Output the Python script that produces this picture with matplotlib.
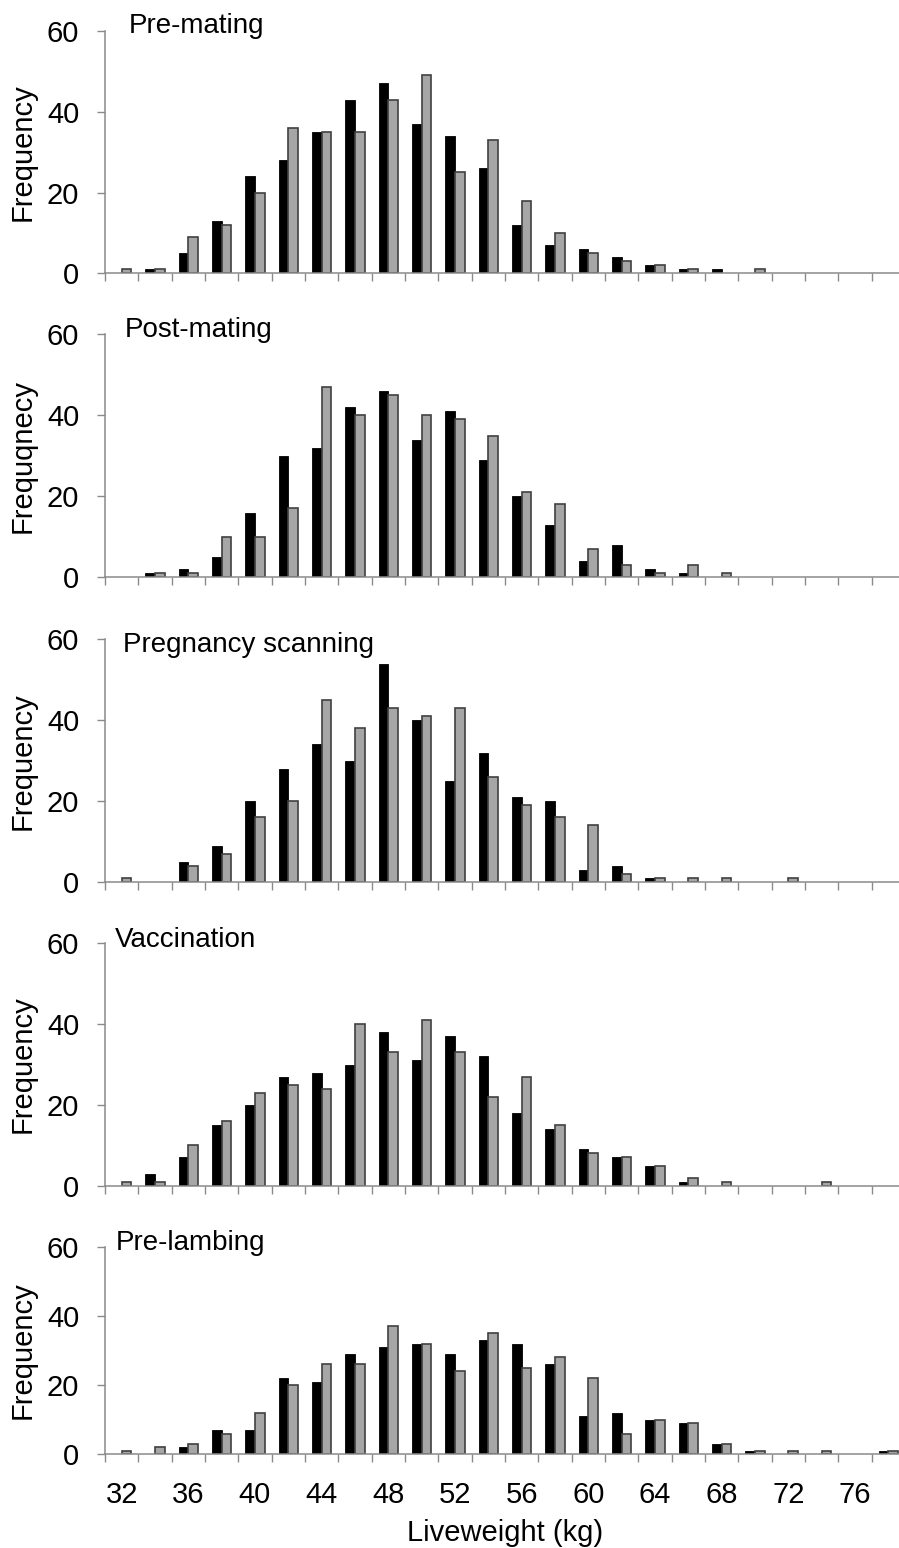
import matplotlib.pyplot as plt
import numpy as np

plt.rcParams["font.family"] = ["Liberation Sans", "DejaVu Sans"]

# liveweight classes (kg), one bar pair per class
weights = list(range(32, 80, 2))
tick_labels = ["32", "36", "40", "44", "48", "52", "56", "60", "64", "68", "72", "76"]

titles = ["Pre-mating", "Post-mating", "Pregnancy scanning", "Vaccination", "Pre-lambing"]
ylabels = ["Frequency", "Frequqnecy", "Frequency", "Frequency", "Frequency"]

# black series
pre_mating_a = [0, 1, 5, 13, 24, 28, 35, 43, 47, 37, 34, 26, 12, 7, 6, 4, 2, 1, 1, 0, 0, 0, 0, 0]
post_mating_a = [0, 1, 2, 5, 16, 30, 32, 42, 46, 34, 41, 29, 20, 13, 4, 8, 2, 1, 0, 0, 0, 0, 0, 0]
scanning_a = [0, 0, 5, 9, 20, 28, 34, 30, 54, 40, 25, 32, 21, 20, 3, 4, 1, 0, 0, 0, 0, 0, 0, 0]
vaccination_a = [0, 3, 7, 15, 20, 27, 28, 30, 38, 31, 37, 32, 18, 14, 9, 7, 5, 1, 0, 0, 0, 0, 0, 0]
pre_lambing_a = [0, 0, 2, 7, 7, 22, 21, 29, 31, 32, 29, 33, 32, 26, 11, 12, 10, 9, 3, 1, 0, 0, 0, 1]

# grey series
pre_mating_b = [1, 1, 9, 12, 20, 36, 35, 35, 43, 49, 25, 33, 18, 10, 5, 3, 2, 1, 0, 1, 0, 0, 0, 0]
post_mating_b = [0, 1, 1, 10, 10, 17, 47, 40, 45, 40, 39, 35, 21, 18, 7, 3, 1, 3, 1, 0, 0, 0, 0, 0]
scanning_b = [1, 0, 4, 7, 16, 20, 45, 38, 43, 41, 43, 26, 19, 16, 14, 2, 1, 1, 1, 0, 1, 0, 0, 0]
vaccination_b = [1, 1, 10, 16, 23, 25, 24, 40, 33, 41, 33, 22, 27, 15, 8, 7, 5, 2, 1, 0, 0, 1, 0, 0]
pre_lambing_b = [1, 2, 3, 6, 12, 20, 26, 26, 37, 32, 24, 35, 25, 28, 22, 6, 10, 9, 3, 1, 1, 1, 0, 1]

series_a = [pre_mating_a, post_mating_a, scanning_a, vaccination_a, pre_lambing_a]
series_b = [pre_mating_b, post_mating_b, scanning_b, vaccination_b, pre_lambing_b]

W, H = 899, 1548
fig = plt.figure(figsize=(W / 100, H / 100), dpi=100)

# panel extents in pixels: (y of 60, y of 0)
panels = [(31, 273.3), (334.3, 577.3), (639.3, 882), (943.3, 1185.7), (1246.7, 1454.3)]
# title anchors (left x, baseline y)
title_pos = [(129, 33.3), (125, 337.3), (123, 652.3), (115, 946.7), (115.5, 1250)]

axis_grey = "#8a8a8a"
fs = 21
fs_title = 20
x = np.arange(len(weights))
bw = 0.29

for i, (top, bot) in enumerate(panels):
    ax = fig.add_axes([105 / W, 1 - bot / H, 800 / W, (bot - top) / H])
    a = np.array(series_a[i])
    b = np.array(series_b[i])
    ax.bar(x - bw / 2, a, width=bw, color="black", edgecolor="black",
           linewidth=np.where(a > 0, 0.6, 0))
    ax.bar(x + bw / 2, b, width=bw, color="#a6a6a6", edgecolor="#404040",
           linewidth=np.where(b > 0, 1.2, 0))

    ax.set_xlim(-0.5, len(weights) - 0.5)
    ax.set_ylim(0, 60)
    ax.set_yticks([0, 20, 40, 60])
    ax.tick_params(axis="y", direction="out", length=6, width=1, color=axis_grey,
                   labelsize=fs, pad=12.5)

    ax.set_xticks(np.arange(-0.5, len(weights), 1), minor=True)
    ax.set_xticks(x[::2])
    if i == len(panels) - 1:
        ax.set_xticklabels(tick_labels)
        ax.set_xlabel("Liveweight (kg)", fontsize=fs, va="baseline")
        ax.xaxis.set_label_coords(0.5, (bot - 1541) / (bot - top))
    else:
        ax.set_xticklabels([])
    ax.tick_params(axis="x", which="major", length=0, labelsize=fs, pad=19)
    ax.tick_params(axis="x", which="minor", direction="out", length=6, width=1,
                   color=axis_grey)

    for side in ["top", "right"]:
        ax.spines[side].set_visible(False)
    for side in ["left", "bottom"]:
        ax.spines[side].set_color(axis_grey)
        ax.spines[side].set_linewidth(1.1)

    ax.set_ylabel(ylabels[i], fontsize=fs, va="center")
    ax.yaxis.set_label_coords((23 - 105) / 800, 0.5)

    tx, ty = title_pos[i]
    fig.text(tx / W, 1 - ty / H, titles[i], fontsize=fs_title, va="baseline", ha="left")

fig.savefig("out.png", dpi=100)
